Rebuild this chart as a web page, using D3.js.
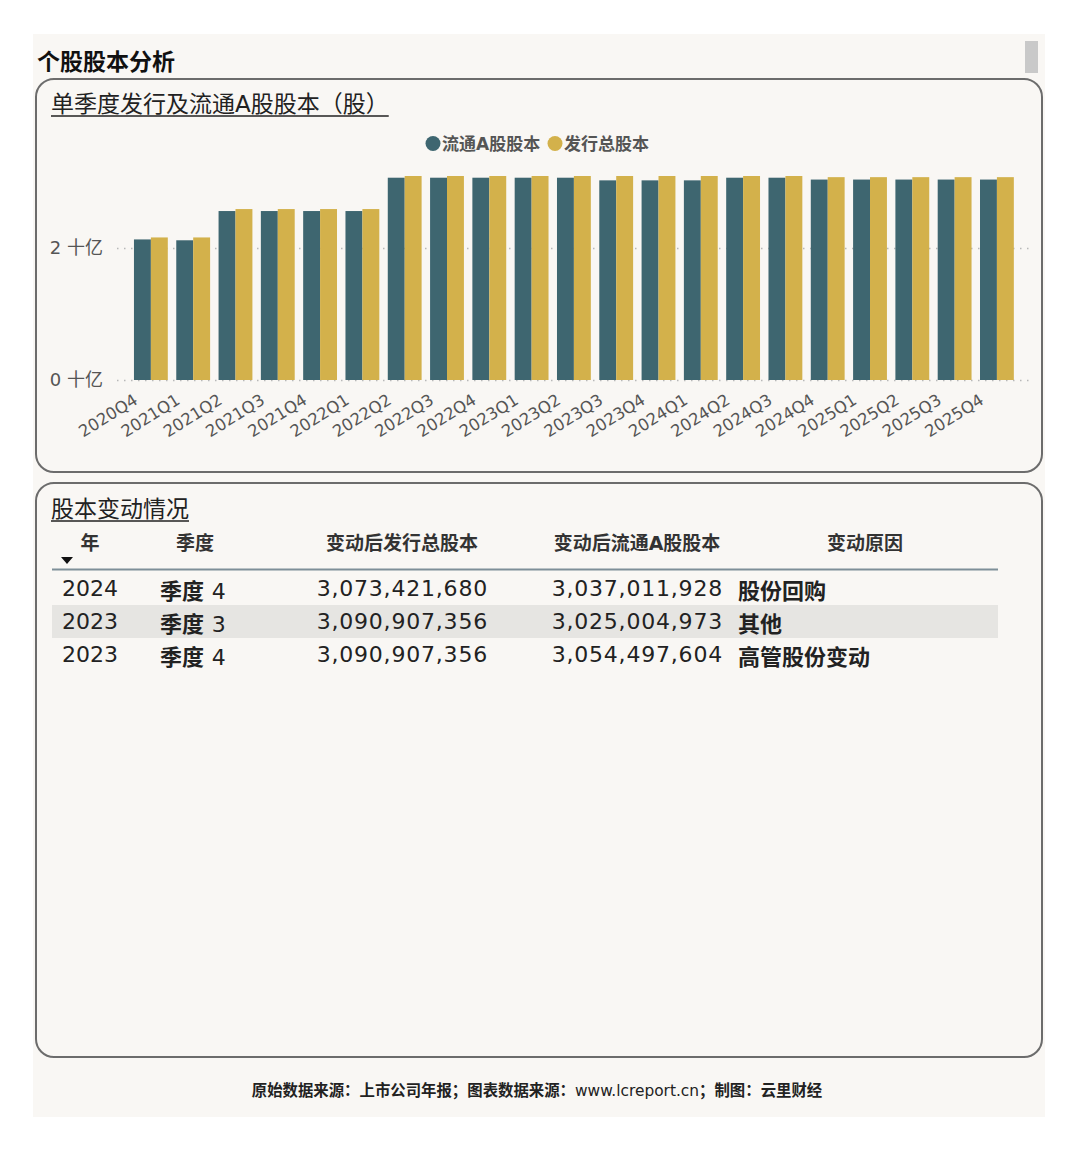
<!DOCTYPE html>
<html>
<head>
<meta charset="utf-8">
<script src="https://cdn.jsdelivr.net/npm/d3@7"></script>
<style>
  body { margin: 0; background: #fff; }
  svg { display: block; }
  text { font-family: "DejaVu Sans", "Noto Sans CJK SC", sans-serif; }
</style>
</head>
<body>
<div id="chart"></div>
<script>
// 季度
const quarters = ["2020Q4", "2021Q1", "2021Q2", "2021Q3", "2021Q4", "2022Q1", "2022Q2", "2022Q3", "2022Q4",
  "2023Q1", "2023Q2", "2023Q3", "2023Q4", "2024Q1", "2024Q2", "2024Q3", "2024Q4",
  "2025Q1", "2025Q2", "2025Q3", "2025Q4"];
// 流通A股股本
const circulating = [2.13e9, 2.117e9, 2.56e9, 2.56e9, 2.56e9, 2.56e9, 3.065e9, 3.065e9, 3.065e9,
  3.065e9, 3.065e9, 3.025e9, 3.025e9, 3.025e9, 3.065e9, 3.065e9, 3.037e9,
  3.037e9, 3.037e9, 3.037e9, 3.037e9];
// 发行总股本
const issued = [2.16e9, 2.16e9, 2.59e9, 2.59e9, 2.59e9, 2.59e9, 3.0909e9, 3.0909e9, 3.0909e9,
  3.0909e9, 3.0909e9, 3.0909e9, 3.0909e9, 3.0909e9, 3.0909e9, 3.0909e9, 3.0734e9,
  3.0734e9, 3.0734e9, 3.0734e9, 3.0734e9];
const seriesNames = ["流通A股股本", "发行总股本"];
const yTicks = [0, 2e9];

// 股本变动表
const tableHeaders = ["年", "季度", "变动后发行总股本", "变动后流通A股股本", "变动原因"];
const tableYears = [2024, 2023, 2023];
const tableQuarters = [4, 3, 4];
const tableIssued = [3073421680, 3090907356, 3090907356];
const tableCirc = [3037011928, 3025004973, 3054497604];
const tableReasons = ["股份回购", "其他", "高管股份变动"];

const W = 1080, H = 1151;
const teal = "#3e6670", gold = "#d3b14b";

const svg = d3.select("#chart").append("svg")
  .attr("width", W).attr("height", H);

// 底卡片
svg.append("rect").attr("x", 33).attr("y", 34).attr("width", 1012).attr("height", 1083)
  .attr("fill", "#f9f7f4");
svg.append("rect").attr("x", 1025).attr("y", 41).attr("width", 13).attr("height", 32)
  .attr("fill", "#c9c9c9");

svg.append("text").attr("x", 37).attr("y", 70)
  .attr("font-size", 23).attr("font-weight", "bold").attr("fill", "#111")
  .text("个股股本分析");

// 两个面板
[[79, 393], [483, 574]].forEach(([y0, h]) => {
  svg.append("rect").attr("x", 36).attr("y", y0).attr("width", 1006).attr("height", h)
    .attr("rx", 18).attr("fill", "none").attr("stroke", "#6c6c6c").attr("stroke-width", 2);
});

function underlined(x, y, size, label) {
  const t = svg.append("text").attr("x", x).attr("y", y)
    .attr("font-size", size).attr("fill", "#222").text(label);
  const len = t.node().getComputedTextLength();
  svg.append("line").attr("x1", x).attr("x2", x + len)
    .attr("y1", y + 4).attr("y2", y + 4)
    .attr("stroke", "#222").attr("stroke-width", 1.6);
}
underlined(51, 112, 23, "单季度发行及流通A股股本（股）");
underlined(51, 517, 23, "股本变动情况");

// 图例
const legend = svg.append("g").attr("font-size", 17).attr("font-weight", "bold").attr("fill", "#555");
const legendX = [433, 555];
seriesNames.forEach((n, i) => {
  legend.append("circle").attr("cx", legendX[i]).attr("cy", 143.5).attr("r", 7.5)
    .attr("fill", i === 0 ? teal : gold);
  legend.append("text").attr("x", legendX[i] + 9).attr("y", 150).text(n);
});

// 柱状图
const x0 = d3.scaleBand().domain(quarters).range([125.5, 1022.3])
  .paddingInner(0.2).paddingOuter(0.2);
const x1 = d3.scaleBand().domain([0, 1]).range([0, x0.bandwidth()]);
const y = d3.scaleLinear().domain([0, 3.2e9]).range([380, 168.8]);

const yAxis = svg.append("g").attr("transform", "translate(117,0)")
  .call(d3.axisLeft(y).tickValues(yTicks).tickSize(-913).tickPadding(14)
    .tickFormat(d => (d / 1e9) + " 十亿"));
yAxis.select(".domain").remove();
yAxis.selectAll("line").attr("stroke", "#b8b8b8").attr("stroke-width", 1.5)
  .attr("stroke-dasharray", "1.5,5.5");
yAxis.selectAll("text").attr("font-size", 18).attr("fill", "#555");

const groups = svg.append("g").selectAll("g").data(quarters).join("g")
  .attr("transform", d => `translate(${x0(d)},0)`);
groups.selectAll("rect")
  .data((d, i) => [circulating[i], issued[i]])
  .join("rect")
  .attr("x", (d, j) => x1(j))
  .attr("width", x1.bandwidth())
  .attr("y", d => y(d))
  .attr("height", d => y(0) - y(d))
  .attr("fill", (d, j) => j === 0 ? teal : gold);

const xAxis = svg.append("g").attr("transform", "translate(0,380)")
  .call(d3.axisBottom(x0).tickSize(0));
xAxis.select(".domain").remove();
xAxis.selectAll("text")
  .attr("font-size", 16.5).attr("fill", "#555")
  .attr("text-anchor", "end")
  .attr("x", -12).attr("y", 23).attr("dy", 0)
  .attr("transform", "rotate(-32,-12,23)");

// 表格
const colX = [90, 195, 402, 637, 865];
const head = svg.append("g").attr("font-size", 19).attr("font-weight", "bold").attr("fill", "#333");
tableHeaders.forEach((h, i) => {
  head.append("text").attr("x", colX[i]).attr("y", 550).attr("text-anchor", "middle").text(h);
});
svg.append("path").attr("d", "M61,557 L73,557 L67,564 Z").attr("fill", "#111");
svg.append("line").attr("x1", 52).attr("x2", 998).attr("y1", 569.5).attr("y2", 569.5)
  .attr("stroke", "#7e8f98").attr("stroke-width", 2);

const rowY = d3.scaleBand().domain(d3.range(tableYears.length)).range([570.5, 669.5]);
const fmt = d3.format(",");
const rows = svg.append("g").selectAll("g").data(tableYears).join("g")
  .attr("transform", (d, i) => `translate(0,${rowY(i)})`);
rows.filter((d, i) => i === 1).append("rect")
  .attr("x", 52).attr("width", 946).attr("y", 1.5).attr("height", rowY.bandwidth())
  .attr("fill", "#e6e5e2");
rows.append("text").attr("x", 62).attr("y", 25).attr("font-size", 22).attr("fill", "#222")
  .text(d => d);
const q = rows.append("text").attr("x", 160).attr("y", 28).attr("font-size", 22).attr("fill", "#222");
q.append("tspan").attr("font-weight", "bold").text("季度 ");
q.append("tspan").text((d, i) => tableQuarters[i]);
rows.append("text").attr("x", 488).attr("y", 25).attr("font-size", 22).attr("fill", "#222")
  .attr("letter-spacing", 0.8).attr("text-anchor", "end").text((d, i) => fmt(tableIssued[i]));
rows.append("text").attr("x", 723).attr("y", 25).attr("font-size", 22).attr("fill", "#222")
  .attr("letter-spacing", 0.8).attr("text-anchor", "end").text((d, i) => fmt(tableCirc[i]));
rows.append("text").attr("x", 738).attr("y", 28).attr("font-size", 22).attr("fill", "#222")
  .attr("font-weight", "bold").text((d, i) => tableReasons[i]);

// 页脚
const foot = svg.append("text").attr("x", 537).attr("y", 1096).attr("text-anchor", "middle")
  .attr("font-size", 15.4).attr("font-weight", "bold").attr("fill", "#222");
foot.append("tspan").text("原始数据来源：上市公司年报；图表数据来源：");
foot.append("tspan").attr("font-weight", "normal").text("www.lcreport.cn");
foot.append("tspan").text("；制图：云里财经");
</script>
</body>
</html>
